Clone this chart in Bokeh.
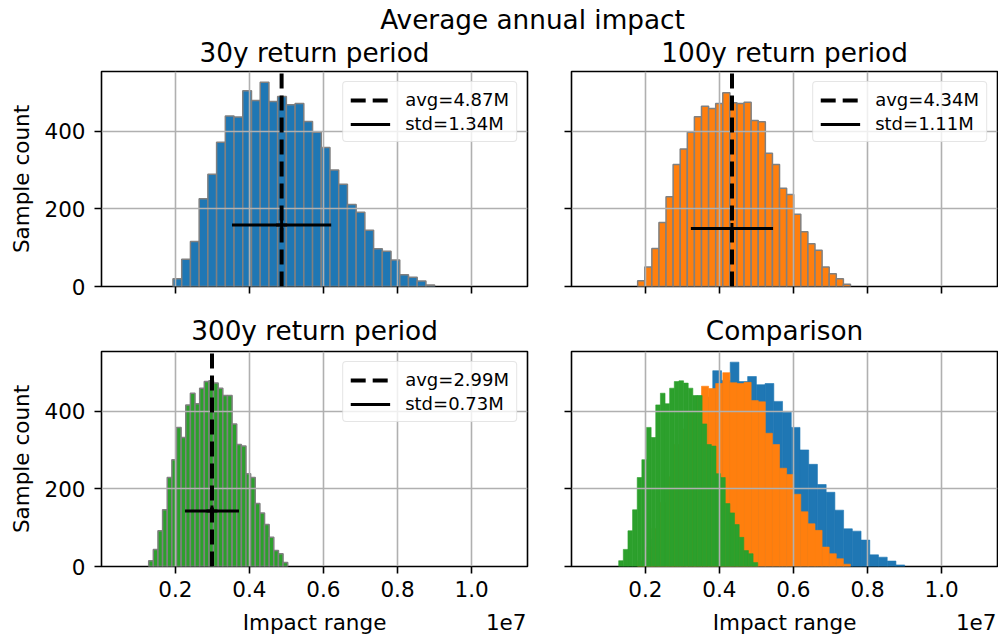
import numpy as np
from bokeh.plotting import figure
from bokeh.models import (Range1d, FixedTicker, Legend, LegendItem, Label,
                          ColumnDataSource, CustomJSTickFormatter)
from bokeh.layouts import column, row
from bokeh.embed import file_html
from bokeh.resources import INLINE

FONT = "DejaVu Sans"

# ---------------- data ----------------
suptitle = "Average annual impact"
panel_titles = ["30y return period", "100y return period", "300y return period", "Comparison"]
series_colors = ["#1f77b4", "#ff7f0e", "#2ca02c"]

blue_counts = [20, 70, 116, 226, 289, 371, 439, 436, 504, 479, 526, 476, 489, 468, 471,
               425, 397, 358, 300, 263, 211, 191, 145, 97, 91, 68, 30, 24, 14, 4]
orange_counts = [15, 50, 98, 165, 231, 314, 354, 397, 437, 464, 458, 471, 499, 473, 471,
                 474, 427, 424, 343, 314, 253, 237, 186, 141, 110, 93, 50, 33, 20, 6]
green_counts = [15, 44, 92, 146, 229, 275, 358, 332, 416, 446, 419, 459, 476, 478, 472,
                459, 440, 440, 367, 314, 310, 239, 229, 162, 138, 108, 75, 41, 33, 10]
blue_range = [1.937e6, 9.003e6]
orange_range = [1.793e6, 7.54e6]
green_range = [1.281e6, 5.035e6]

means = [4.87e6, 4.34e6, 2.99e6]
stds = [1.34e6, 1.11e6, 0.73e6]
errbar_y = [158, 149, 143]
avg_labels = ["avg=4.87M", "avg=4.34M", "avg=2.99M"]
std_labels = ["std=1.34M", "std=1.11M", "std=0.73M"]

x_ticks = [2e6, 4e6, 6e6, 8e6, 10e6]
y_ticks = [0, 200, 400]
x_lim = [0.0067e6, 11.51e6]
y_lim = [0, 553.4]
x_label = "Impact range"
y_label = "Sample count"
offset_text = "1e7"

counts = [blue_counts, orange_counts, green_counts]
ranges = [blue_range, orange_range, green_range]


def edges(rng, n):
    return np.linspace(rng[0], rng[1], n + 1)


# ---------------- geometry ----------------
W = 998
FW, FH = 426, 215
BL_LEFT, GAP, BR_RIGHT = 101, 22, 1
HEAD_H = 69                       # strip holding figure title + top panel titles
TOP_B1, TOP_B2 = 2, 17            # top row: border above / below frame
BOT_B1, BOT_B2 = 48, 40           # bottom row: border above / below frame
FOOT_H = 31
TICK_FONT = "21.5px"
TITLE_FONT = "26.3px"
LABEL_SHIFT = 7                   # correction for Label baseline placement

left_center = BL_LEFT + FW / 2
right_center = BL_LEFT + FW + GAP + GAP + FW / 2


def style(p, show_x, show_y):
    if p.title is not None:
        p.title.text_font = FONT
        p.title.text_font_size = TITLE_FONT
        p.title.text_font_style = "normal"
        p.title.align = "center"
        p.title.text_color = "black"
        p.title.standoff = 12
    p.outline_line_color = "black"
    p.outline_line_width = 1.6
    p.outline_line_alpha = 1
    p.background_fill_color = "white"
    p.border_fill_color = "white"
    for ax in (p.xaxis[0], p.yaxis[0]):
        ax.axis_line_color = None
        ax.major_tick_out = 7
        ax.major_tick_in = 0
        ax.major_tick_line_width = 1.6
        ax.major_tick_line_color = "black"
        ax.minor_tick_line_color = None
        ax.major_label_text_font = FONT
        ax.major_label_text_font_size = TICK_FONT
        ax.major_label_text_color = "black"
        ax.axis_label_text_font = FONT
        ax.axis_label_text_font_size = TICK_FONT
        ax.axis_label_text_font_style = "normal"
        ax.axis_label_text_color = "black"
    p.xaxis[0].ticker = FixedTicker(ticks=x_ticks)
    p.xaxis[0].formatter = CustomJSTickFormatter(code="return (tick/1e7).toFixed(1);")
    p.yaxis[0].ticker = FixedTicker(ticks=y_ticks)
    p.xgrid[0].ticker = FixedTicker(ticks=x_ticks)
    p.ygrid[0].ticker = FixedTicker(ticks=y_ticks)
    p.grid.grid_line_color = "#b0b0b0"
    p.grid.grid_line_width = 1.6
    if show_x:
        p.xaxis[0].major_label_standoff = 7
    else:
        p.xaxis[0].major_label_text_color = None
        p.xaxis[0].major_label_text_font_size = "1px"
        p.xaxis[0].major_label_standoff = 0
    if show_y:
        p.yaxis[0].major_label_standoff = 9
        p.yaxis[0].axis_label = y_label
        p.yaxis[0].axis_label_standoff = 7
    else:
        p.yaxis[0].major_label_text_color = None
        p.yaxis[0].major_label_text_font_size = "1px"
        p.yaxis[0].major_label_standoff = 0


def make_fig(title, bl, br, bt, bb):
    return figure(frame_width=FW, frame_height=FH, min_border_left=bl, min_border_right=br,
                  min_border_top=bt, min_border_bottom=bb,
                  x_range=Range1d(*x_lim), y_range=Range1d(*y_lim),
                  title=title, output_backend="svg", toolbar_location=None)


def single_panel(p, i):
    e = edges(ranges[i], len(counts[i]))
    src = ColumnDataSource(dict(left=e[:-1], right=e[1:], top=counts[i]))
    r = p.quad(left="left", right="right", top="top", bottom=0, source=src,
               fill_color=series_colors[i], line_color="#808080", line_width=1.5)
    r.level = "image"
    avg_r = p.segment(x0=[means[i]], y0=[y_lim[0]], x1=[means[i]], y1=[y_lim[1]],
                      line_color="black", line_width=4, line_dash="15 7")
    std_r = p.segment(x0=[means[i] - stds[i]], y0=[errbar_y[i]], x1=[means[i] + stds[i]],
                      y1=[errbar_y[i]], line_color="black", line_width=3)
    p.scatter(x=[means[i]], y=[errbar_y[i]], marker="cross", size=11, line_width=3,
              line_color="black")
    leg = Legend(items=[LegendItem(label=avg_labels[i], renderers=[avg_r]),
                        LegendItem(label=std_labels[i], renderers=[std_r])],
                 location="top_right")
    leg.margin = 10
    leg.padding = 7
    leg.spacing = 3
    leg.glyph_width = 40
    leg.glyph_height = 20
    leg.label_height = 20
    leg.label_standoff = 15
    leg.label_text_font = FONT
    leg.label_text_font_size = "18px"
    leg.label_text_color = "black"
    leg.border_line_color = "#cccccc"
    leg.border_line_width = 1.2
    leg.background_fill_alpha = 0.8
    if "border_radius" in Legend.properties():
        leg.border_radius = 4
    p.add_layout(leg)


tl = make_fig(None, BL_LEFT, GAP, TOP_B1, TOP_B2)
tr = make_fig(None, GAP, BR_RIGHT, TOP_B1, TOP_B2)
bl = make_fig(panel_titles[2], BL_LEFT, GAP, BOT_B1, BOT_B2)
br = make_fig(panel_titles[3], GAP, BR_RIGHT, BOT_B1, BOT_B2)

style(tl, False, True)
style(tr, False, False)
style(bl, True, True)
style(br, True, False)

single_panel(tl, 0)
single_panel(tr, 1)
single_panel(bl, 2)

for i in range(3):
    e = edges(ranges[i], len(counts[i]))
    src = ColumnDataSource(dict(left=e[:-1], right=e[1:], top=counts[i]))
    r = br.quad(left="left", right="right", top="top", bottom=0, source=src,
                fill_color=series_colors[i], line_color=series_colors[i], line_width=0.6)
    r.level = "image"


def strip(h):
    s = figure(title=None, width=W, height=h, x_range=Range1d(0, W), y_range=Range1d(0, h),
               min_border=0, x_axis_location=None, y_axis_location=None,
               output_backend="svg", toolbar_location=None)
    s.grid.visible = False
    s.outline_line_color = None
    s.background_fill_color = "white"
    s.border_fill_color = "white"
    return s


def text_at(s, h, x, baseline_from_top, text, size, align="center"):
    s.add_layout(Label(x=x, y=h - baseline_from_top + LABEL_SHIFT, text=text,
                       text_align=align, text_baseline="alphabetic", text_font=FONT,
                       text_font_size=size, text_color="black"))


# header: figure title and the two upper panel titles
header = strip(HEAD_H)
text_at(header, HEAD_H, 532, 26, suptitle, TITLE_FONT)
text_at(header, HEAD_H, left_center, 59, panel_titles[0], TITLE_FONT)
text_at(header, HEAD_H, right_center, 59, panel_titles[1], TITLE_FONT)

# footer: x-axis labels and offset texts
footer = strip(FOOT_H)
for cx, rx in ((left_center, BL_LEFT + FW - 1), (right_center, W - BR_RIGHT - 1)):
    text_at(footer, FOOT_H, cx, 22.5, x_label, TICK_FONT)
    text_at(footer, FOOT_H, rx, 22.5, offset_text, TICK_FONT, align="right")

layout = column(header, row(tl, tr), row(bl, br), footer)
open("out.html", "w").write(file_html(layout, INLINE))
